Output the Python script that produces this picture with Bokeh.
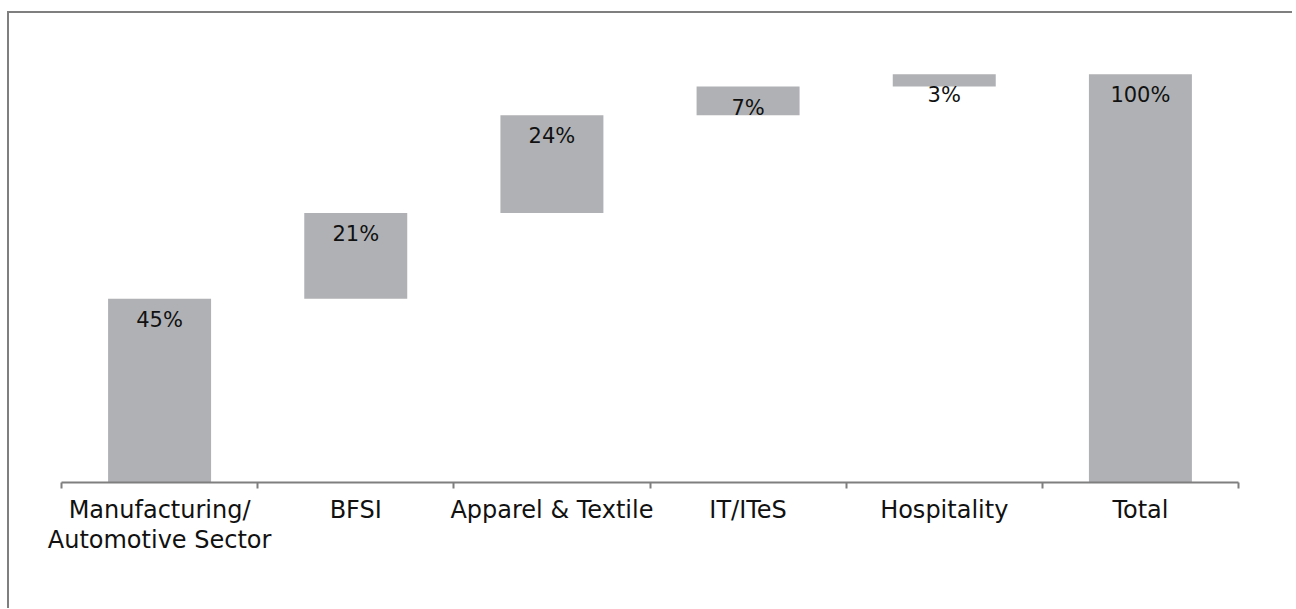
from bokeh.plotting import figure
from bokeh.models import ColumnDataSource, Range1d, FixedTicker
from bokeh.embed import file_html
from bokeh.resources import INLINE
from bokeh.core.properties import value

categories = ["Manufacturing/\nAutomotive Sector", "BFSI", "Apparel & Textile", "IT/ITeS", "Hospitality", "Total"]
shares = [45, 21, 24, 7, 3]
total = 100

# waterfall geometry from the data
bottoms, tops = [], []
running = 0
for v in shares:
    bottoms.append(running)
    running += v
    tops.append(running)
bottoms.append(0)
tops.append(total)
all_vals = shares + [total]
xs = [i + 0.5 for i in range(len(categories))]
labels = [f"{v}%" for v in all_vals]

src = ColumnDataSource(dict(x=xs, bottom=bottoms, top=tops, label=labels))

p = figure(width=1285, height=597, output_backend="svg", toolbar_location=None,
           x_range=Range1d(0, len(categories)), y_range=Range1d(0, 110),
           min_border_left=52, min_border_right=56, min_border_top=20, min_border_bottom=128)
p.styles = {"border-top": "2px solid #7f7f7f", "border-left": "2px solid #7f7f7f",
            "margin-top": "11px", "margin-left": "7px"}
p.outline_line_color = None
p.xgrid.visible = False
p.ygrid.visible = False
p.yaxis.visible = False

p.vbar(x="x", bottom="bottom", top="top", width=0.525, source=src,
       fill_color="#b0b1b5", line_color=None)
p.text(x="x", y="top", text="label", source=src, text_align="center", text_baseline="middle",
       y_offset=21, text_font=value("DejaVu Sans"), text_font_size="21px", text_color="#111111")

xa = p.xaxis[0]
xa.ticker = FixedTicker(ticks=xs, minor_ticks=list(range(len(categories) + 1)))
xa.major_label_overrides = {x: c for x, c in zip(xs, categories)}
xa.major_tick_line_color = None
xa.major_tick_out = 0
xa.major_tick_in = 0
xa.minor_tick_out = 6
xa.minor_tick_in = 0
xa.minor_tick_line_color = "#7f7f7f"
xa.minor_tick_line_width = 2
xa.axis_line_color = "#7f7f7f"
xa.axis_line_width = 2
xa.major_label_standoff = 7
xa.major_label_text_font = "DejaVu Sans"
xa.major_label_text_font_size = "24px"
xa.major_label_text_color = "#111111"
xa.major_label_text_line_height = 1.08

open("out.html", "w").write(file_html(p, INLINE))
